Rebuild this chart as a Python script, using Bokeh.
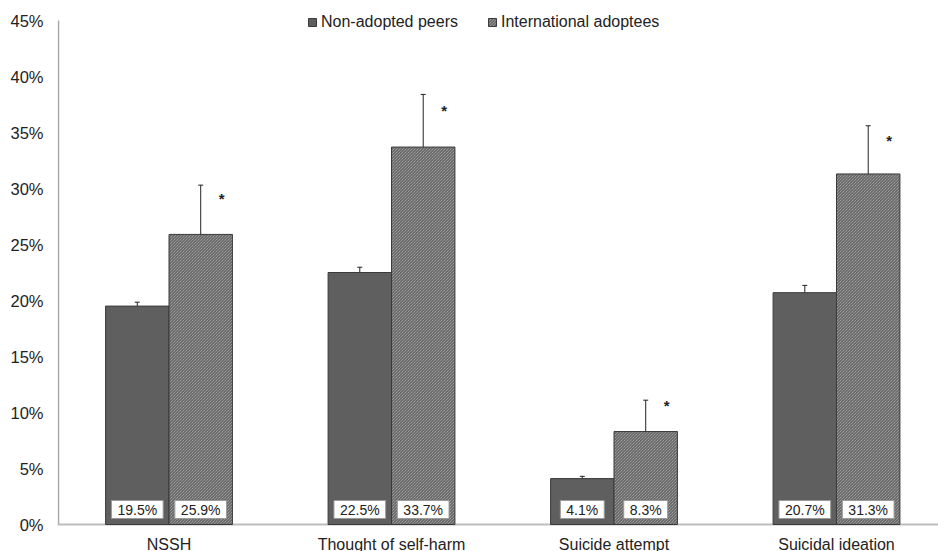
from bokeh.plotting import figure
from bokeh.models import (Range1d, FixedTicker, PrintfTickFormatter, ColumnDataSource,
                          Whisker, TeeHead, Legend, LegendItem)
from bokeh.core.properties import value
from bokeh.embed import file_html
from bokeh.resources import INLINE

# ---- data ----
categories = ["NSSH", "Thought of self-harm", "Suicide attempt", "Suicidal ideation"]
series_names = ["Non-adopted peers", "International adoptees"]
peers = [19.5, 22.5, 4.1, 20.7]
adoptees = [25.9, 33.7, 8.3, 31.3]
peers_err_low = [19.17, 22.17, 3.95, 20.6]
peers_err_high = [19.85, 22.97, 4.3, 21.35]
adoptees_err_low = [21.7, 29.2, 5.7, 26.6]
adoptees_err_high = [30.3, 38.4, 11.1, 35.6]
sig_marker_y = [29.1, 37.0, 10.6, 34.3]
sig_marker = ["*", "*", "*", "*"]
y_ticks = [0, 5, 10, 15, 20, 25, 30, 35, 40, 45]

FONT = "Liberation Sans"
BAR_W = 0.285
idx = list(range(len(categories)))
x_peers = [i - BAR_W / 2 for i in idx]
x_adopt = [i + BAR_W / 2 for i in idx]

# layout (pixels)
W, H = 938, 551
LEFT = 57            # frame left edge
PX_X = 222.5         # pixels per category
PX_Y = 11.2          # pixels per percentage point
ZERO_Y = 524         # pixel row of 0%
X0 = -111.5 / PX_X
X1 = X0 + (W - LEFT) / PX_X
Y0 = -(H - ZERO_Y) / PX_Y
Y1 = ZERO_Y / PX_Y

src_p = ColumnDataSource(dict(x=x_peers, top=peers, lo=peers_err_low, hi=peers_err_high,
                              lab=[f"{v:.1f}%" for v in peers], zero=[0] * len(idx)))
src_a = ColumnDataSource(dict(x=x_adopt, top=adoptees, lo=adoptees_err_low, hi=adoptees_err_high,
                              lab=[f"{v:.1f}%" for v in adoptees], zero=[0] * len(idx),
                              sy=sig_marker_y, sig=sig_marker))
src_c = ColumnDataSource(dict(x=idx, zero=[0] * len(idx), name=categories))

p = figure(width=W, height=H, output_backend="svg", toolbar_location=None,
           x_range=Range1d(X0, X1), y_range=Range1d(Y0, Y1),
           min_border_left=LEFT, min_border_right=0, min_border_top=0, min_border_bottom=0)
p.outline_line_color = None
p.xgrid.visible = False
p.ygrid.visible = False
p.xaxis.visible = False
p.background_fill_color = "white"
p.border_fill_color = "white"

ya = p.yaxis[0]
ya.ticker = FixedTicker(ticks=y_ticks)
ya.formatter = PrintfTickFormatter(format="%d%%")
ya.axis_line_color = None
ya.major_tick_line_color = None
ya.minor_tick_line_color = None
ya.major_tick_out = 0
ya.major_tick_in = 0
ya.minor_tick_out = 0
ya.major_label_standoff = 14
ya.major_label_text_font = FONT
ya.major_label_text_font_size = "16.5px"
ya.major_label_text_color = "#222222"

# axis lines
p.segment(x0=[X0 + 1 / PX_X], y0=[y_ticks[0]], x1=[X0 + 1 / PX_X], y1=[y_ticks[-1]],
          line_color="#a6a6a6", line_width=1.5)
p.segment(x0=[X0], y0=[0], x1=[X1], y1=[0], line_color="#bdbdbd", line_width=2)

r1 = p.vbar(x="x", top="top", width=BAR_W, source=src_p,
            fill_color="#5f5f5f", line_color="#3a3a3a", line_width=1)
r2 = p.vbar(x="x", top="top", width=BAR_W, source=src_a,
            fill_color="#bcbcbc", line_color="#3a3a3a", line_width=1,
            hatch_pattern="\\", hatch_color="#505050", hatch_scale=3, hatch_weight=1)

for src in (src_p, src_a):
    w = Whisker(base="x", lower="lo", upper="hi", source=src,
                line_color="#222222", line_width=1,
                upper_head=TeeHead(size=5, line_color="#222222", line_width=1),
                lower_head=TeeHead(size=5, line_color="#222222", line_width=1))
    p.add_layout(w)

for src in (src_p, src_a):
    p.text(x="x", y="zero", text="lab", source=src, y_offset=-6,
           text_align="center", text_baseline="bottom",
           text_font=value(FONT), text_font_size="14px", text_color="#222222",
           background_fill_color="white", border_line_color="#9a9a9a",
           border_line_width=1, padding=[6, 1])

p.text(x="x", y="sy", text="sig", source=src_a, x_offset=21,
       text_align="center", text_baseline="middle",
       text_font=value(FONT), text_font_size="15px", text_font_style="bold",
       text_color="#222222")

p.text(x="x", y="zero", text="name", source=src_c, y_offset=11,
       text_align="center", text_baseline="top",
       text_font=value(FONT), text_font_size="16px", text_color="#222222")

legend = Legend(items=[LegendItem(label=series_names[0], renderers=[r1]),
                       LegendItem(label=series_names[1], renderers=[r2])],
                orientation="horizontal", location=(250, 520), spacing=29,
                label_standoff=4, glyph_width=10, glyph_height=10, label_height=18,
                padding=0, margin=0, border_line_alpha=0, background_fill_alpha=0,
                label_text_font=FONT, label_text_font_size="16px",
                label_text_color="#222222")
p.add_layout(legend)

open("out.html", "w").write(file_html(p, INLINE))
